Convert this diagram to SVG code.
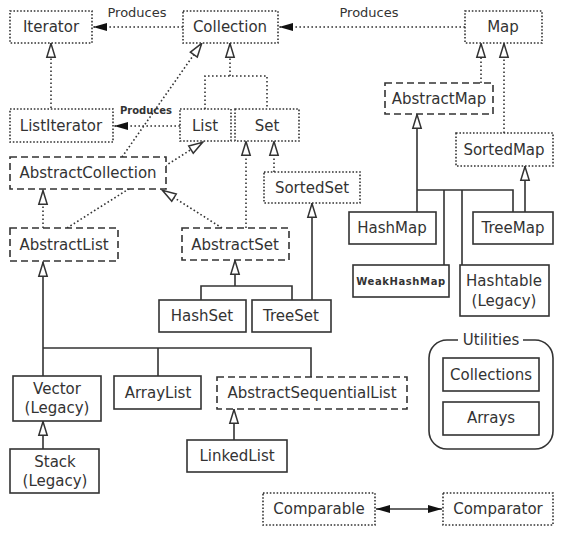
<svg xmlns="http://www.w3.org/2000/svg" width="571" height="557" viewBox="0 0 571 557">
<style>
text{font-family:"DejaVu Sans","Verdana",sans-serif;font-size:15px;fill:#333;text-anchor:middle;dominant-baseline:central}
.b{fill:#fff;stroke:#333;stroke-width:1.6}
.dot{stroke-dasharray:1.6 1.8}
.dash{stroke-dasharray:7 4}
.c{fill:none;stroke:#333;stroke-width:1.6}
.cd{stroke-dasharray:1.6 2.4}
.lbl{font-size:13px}
.sm{font-size:10px;font-weight:bold}
</style>
<defs>
<marker id="h" viewBox="0 0 15 10" refX="15" refY="5" markerWidth="15" markerHeight="10" orient="auto" markerUnits="userSpaceOnUse" overflow="visible">
<path d="M0.8,0.8 L14.5,5 L0.8,9.2 Z" fill="#fff" stroke="#333" stroke-width="1.5"/>
</marker>
<marker id="f" viewBox="0 0 14 10" refX="14" refY="5" markerWidth="14" markerHeight="10" orient="auto-start-reverse" markerUnits="userSpaceOnUse" overflow="visible">
<path d="M0,1 L14,5 L0,9 Z" fill="#111"/>
</marker>
</defs>
<rect width="571" height="557" fill="#fff"/>
<g id="connectors">
<line class="c cd" x1="183" y1="27" x2="93" y2="27" marker-end="url(#f)"/>
<line class="c cd" x1="465" y1="27" x2="279" y2="27" marker-end="url(#f)"/>
<line class="c cd" x1="180" y1="126" x2="114" y2="126" marker-end="url(#f)"/>
<line class="c cd" x1="51" y1="108" x2="51" y2="43" marker-end="url(#h)"/>
<path class="c cd" d="M205,109 V76 H267 V109"/>
<line class="c cd" x1="230" y1="76" x2="230" y2="43" marker-end="url(#h)"/>
<line class="c cd" x1="122" y1="157" x2="202" y2="43" marker-end="url(#h)"/>
<line class="c cd" x1="67" y1="228" x2="203" y2="142" marker-end="url(#h)"/>
<line class="c cd" x1="43" y1="228" x2="43" y2="190" marker-end="url(#h)"/>
<line class="c cd" x1="222" y1="228" x2="162" y2="190" marker-end="url(#h)"/>
<line class="c cd" x1="246" y1="228" x2="246" y2="141" marker-end="url(#h)"/>
<line class="c cd" x1="274" y1="172" x2="274" y2="141" marker-end="url(#h)"/>
<line class="c" x1="312" y1="300" x2="312" y2="203" marker-end="url(#h)"/>
<path class="c" d="M201,300 V286 H292 V300"/>
<line class="c" x1="235" y1="286" x2="235" y2="260" marker-end="url(#h)"/>
<line class="c" x1="43" y1="376" x2="43" y2="262" marker-end="url(#h)"/>
<path class="c" d="M43,348 H311 V377 M158,348 V376"/>
<line class="c" x1="43" y1="449" x2="43" y2="421" marker-end="url(#h)"/>
<line class="c" x1="234" y1="440" x2="234" y2="409" marker-end="url(#h)"/>
<line class="c cd" x1="481" y1="83" x2="481" y2="43" marker-end="url(#h)"/>
<line class="c cd" x1="504" y1="133" x2="504" y2="43" marker-end="url(#h)"/>
<line class="c" x1="417" y1="212" x2="417" y2="114" marker-end="url(#h)"/>
<path class="c" d="M417,190 H513 V212 M444,190 V265 M462,190 V265"/>
<line class="c" x1="525" y1="212" x2="525" y2="166" marker-end="url(#h)"/>
<line class="c" x1="376" y1="509" x2="442" y2="509" marker-start="url(#f)" marker-end="url(#f)"/>
<text class="lbl" x="137" y="12">Produces</text>
<text class="lbl" x="369" y="12">Produces</text>
<text class="sm" x="146" y="110">Produces</text>
</g>
<g id="Iterator"><rect class="b dot" x="10" y="11" width="82" height="32"/><text x="51" y="27">Iterator</text></g>
<g id="Collection"><rect class="b dot" x="183" y="11" width="95" height="32"/><text x="230" y="27">Collection</text></g>
<g id="Map"><rect class="b dot" x="465" y="11" width="77" height="32"/><text x="503" y="27">Map</text></g>
<g id="ListIterator"><rect class="b dot" x="10" y="109" width="103" height="33"/><text x="61" y="126">ListIterator</text></g>
<g id="List"><rect class="b dot" x="180" y="109" width="51" height="32"/><text x="205" y="126">List</text></g>
<g id="Set"><rect class="b dot" x="235" y="109" width="64" height="32"/><text x="267" y="126">Set</text></g>
<g id="AbstractCollection"><rect class="b dash" x="10" y="157" width="156" height="32"/><text x="88" y="173">AbstractCollection</text></g>
<g id="SortedSet"><rect class="b dot" x="264" y="172" width="96" height="31"/><text x="312" y="188">SortedSet</text></g>
<g id="AbstractList"><rect class="b dash" x="10" y="228" width="108" height="33"/><text x="64" y="245">AbstractList</text></g>
<g id="AbstractSet"><rect class="b dash" x="182" y="228" width="107" height="32"/><text x="235" y="245">AbstractSet</text></g>
<g id="AbstractMap"><rect class="b dash" x="385" y="83" width="108" height="31"/><text x="439" y="99">AbstractMap</text></g>
<g id="SortedMap"><rect class="b dot" x="456" y="133" width="97" height="33"/><text x="504" y="150">SortedMap</text></g>
<g id="HashMap"><rect class="b" x="349" y="212" width="87" height="32"/><text x="392" y="228">HashMap</text></g>
<g id="TreeMap"><rect class="b" x="473" y="212" width="80" height="32"/><text x="513" y="228">TreeMap</text></g>
<g id="WeakHashMap"><rect class="b" x="353" y="265" width="96" height="32"/><text x="401" y="281" style="font-size:10px;font-weight:bold;letter-spacing:0.6px">WeakHashMap</text></g>
<g id="Hashtable"><rect class="b" x="460" y="265" width="89" height="51"/><text x="504" y="281">Hashtable</text><text x="504" y="301">(Legacy)</text></g>
<g id="HashSet"><rect class="b" x="159" y="300" width="87" height="32"/><text x="202" y="316">HashSet</text></g>
<g id="TreeSet"><rect class="b" x="252" y="300" width="79" height="32"/><text x="291" y="316">TreeSet</text></g>
<g id="Vector"><rect class="b" x="13" y="376" width="88" height="45"/><text x="57" y="389">Vector</text><text x="57" y="408">(Legacy)</text></g>
<g id="ArrayList"><rect class="b" x="114" y="376" width="87" height="33"/><text x="158" y="393">ArrayList</text></g>
<g id="AbstractSequentialList"><rect class="b dash" x="217" y="377" width="190" height="32"/><text x="312" y="393">AbstractSequentialList</text></g>
<g id="Stack"><rect class="b" x="10" y="449" width="89" height="44"/><text x="55" y="462">Stack</text><text x="55" y="481">(Legacy)</text></g>
<g id="LinkedList"><rect class="b" x="187" y="440" width="100" height="32"/><text x="237" y="456">LinkedList</text></g>
<g id="Utilities">
<path class="c" d="M458,340 H447 A18,18 0 0 0 429,358 V431 A18,18 0 0 0 447,449 H535 A18,18 0 0 0 553,431 V358 A18,18 0 0 0 535,340 H523"/>
<text x="491" y="340">Utilities</text>
</g>
<g id="Collections"><rect class="b" x="443" y="358" width="96" height="33"/><text x="491" y="375">Collections</text></g>
<g id="Arrays"><rect class="b" x="443" y="402" width="96" height="33"/><text x="491" y="418">Arrays</text></g>
<g id="Comparable"><rect class="b dot" x="263" y="493" width="112" height="32"/><text x="319" y="509">Comparable</text></g>
<g id="Comparator"><rect class="b dot" x="443" y="493" width="110" height="32"/><text x="498" y="509">Comparator</text></g>
</svg>
